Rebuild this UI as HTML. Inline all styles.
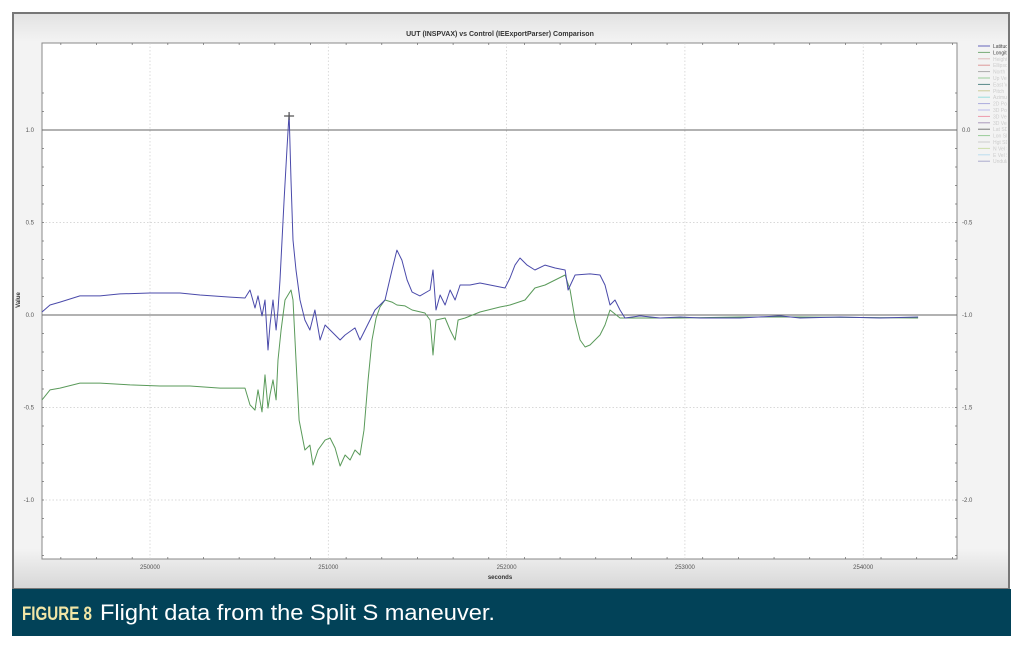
<!DOCTYPE html>
<html><head><meta charset="utf-8"><style>
body{margin:0;background:#fff;width:1024px;height:656px;overflow:hidden;font-family:"Liberation Sans",sans-serif}
</style></head><body>
<svg width="1024" height="656" viewBox="0 0 1024 656" xmlns="http://www.w3.org/2000/svg">
<defs>
<linearGradient id="bg" x1="0" y1="0" x2="0" y2="1">
<stop offset="0" stop-color="#e2e2e2"/><stop offset="0.05" stop-color="#f3f3f3"/><stop offset="0.93" stop-color="#f3f3f3"/><stop offset="1" stop-color="#d6d6d6"/>
</linearGradient>
<clipPath id="legclip"><rect x="960" y="30" width="47" height="200"/></clipPath>
</defs>
<rect x="13" y="13" width="996" height="576" fill="url(#bg)" stroke="#777" stroke-width="2"/>
<rect x="42" y="43" width="915" height="516" fill="#fff" stroke="#888" stroke-width="1"/>
<text x="500" y="36" font-size="7" font-weight="bold" text-anchor="middle" fill="#333">UUT (INSPVAX) vs Control (IEExportParser) Comparison</text>
<text x="500" y="579" font-size="6" font-weight="bold" text-anchor="middle" fill="#333">seconds</text>
<text x="20" y="300" font-size="6" font-weight="bold" text-anchor="middle" fill="#333" transform="rotate(-90 20 300)">Value</text>
<g id="grid"></g><g id="axes"></g><g id="series"></g><g id="legend" clip-path="url(#legclip)"></g>
<rect x="12" y="589" width="999" height="47" fill="#024258"/>
<text x="22" y="620" font-size="19" font-weight="bold" fill="#f2e6a6" textLength="70" lengthAdjust="spacingAndGlyphs">FIGURE 8</text>
<text x="100" y="620" font-size="22" fill="#fff" textLength="395" lengthAdjust="spacingAndGlyphs">Flight data from the Split S maneuver.</text>
</svg>
<script>
const xTicks=[250000,251000,252000,253000,254000];
const yTicksLeft=[1.0,0.5,0.0,-0.5,-1.0];
const yTicksRight=["0.0","-0.5","-1.0","-1.5","-2.0"];
const latT=[249394,249439,249495,249607,249720,249832,250000,250168,250280,250449,250533,250561,250589,250606,250628,250645,250662,250673,250690,250707,250718,250729,250752,250768,250780,250791,250802,250819,250841,250869,250897,250925,250954,250982,251010,251066,251094,251150,251178,251206,251234,251262,251318,251357,251385,251413,251442,251470,251514,251571,251587,251604,251627,251655,251683,251711,251739,251795,251851,251907,251991,252019,252047,252075,252115,252159,252216,252272,252328,252345,252384,252468,252524,252552,252580,252608,252636,252664,252748,252861,252973,253085,253309,253534,253646,253870,254094,254308];
const latV=[0.016,0.054,0.07,0.103,0.103,0.114,0.119,0.119,0.108,0.097,0.092,0.135,0.038,0.103,-0.005,0.081,-0.189,-0.054,0.081,-0.081,0.027,0.189,0.622,0.892,1.092,0.73,0.405,0.243,0.081,-0.027,-0.081,0.027,-0.135,-0.054,-0.081,-0.135,-0.108,-0.07,-0.135,-0.081,-0.027,0.027,0.081,0.243,0.351,0.297,0.189,0.124,0.103,0.135,0.243,0.027,0.108,0.054,0.135,0.081,0.162,0.162,0.173,0.162,0.146,0.2,0.27,0.308,0.27,0.243,0.27,0.254,0.243,0.135,0.216,0.222,0.216,0.162,0.054,0.081,0.027,-0.016,-0.005,-0.016,-0.011,-0.016,-0.016,-0.005,-0.016,-0.011,-0.016,-0.011];
const lonT=[249394,249439,249495,249607,249720,249888,250056,250224,250393,250477,250533,250561,250589,250606,250628,250645,250662,250673,250690,250707,250718,250735,250757,250774,250791,250802,250819,250836,250869,250897,250914,250942,250982,251010,251038,251066,251094,251122,251150,251178,251200,251223,251245,251268,251290,251318,251357,251385,251430,251470,251542,251571,251587,251604,251655,251683,251711,251728,251767,251851,251963,252019,252103,252159,252216,252272,252328,252356,252384,252412,252440,252468,252524,252552,252580,252636,252748,252973,253309,253646,254308];
const lonV=[-0.459,-0.405,-0.395,-0.368,-0.368,-0.378,-0.384,-0.384,-0.395,-0.395,-0.395,-0.486,-0.514,-0.405,-0.524,-0.324,-0.503,-0.432,-0.351,-0.459,-0.243,-0.081,0.081,0.108,0.135,0.081,-0.243,-0.568,-0.73,-0.703,-0.811,-0.73,-0.676,-0.665,-0.719,-0.816,-0.757,-0.784,-0.73,-0.757,-0.622,-0.351,-0.135,-0.016,0.043,0.081,0.07,0.054,0.049,0.027,0.011,-0.027,-0.216,-0.027,-0.016,-0.081,-0.135,-0.027,-0.016,0.016,0.043,0.054,0.081,0.146,0.162,0.189,0.216,0.135,-0.027,-0.135,-0.173,-0.162,-0.108,-0.054,0.027,-0.016,-0.016,-0.016,-0.011,-0.011,-0.016];
const legendNames=["Latitude","Longitude","Height","Ellipsoid","North Vel","Up Vel","East Vel","Pitch","Azimuth","2D Pos","3D Pos","3D Vel","3D Vel","Lat SD","Lon SD","Hgt SD","N Vel SD","E Vel SD","Undulation"];
const legendColors=["#6666bb","#77aa77","#ddbbbb","#dd9999","#aaaaaa","#99cc99","#558888","#cccc99","#99dddd","#aaaadd","#bbbbee","#ee99aa","#aa99bb","#777777","#99cc99","#cccccc","#ccddaa","#bbddee","#aaaacc"];

const NS="http://www.w3.org/2000/svg";
const X0=42,X1=957,Y0=43,Y1=559;
function xs(t){return 150+(t-250000)*0.1783;}
function ys(v){return 315-v*185;}
function mk(tag,attrs,parent){const e=document.createElementNS(NS,tag);for(const k in attrs)e.setAttribute(k,attrs[k]);parent.appendChild(e);return e;}
const grid=document.getElementById('grid'),axes=document.getElementById('axes'),series=document.getElementById('series'),legend=document.getElementById('legend');
xTicks.forEach(t=>{
  const x=xs(t);
  const g=mk('line',{x1:x,x2:x,y1:Y0,y2:Y1,stroke:'#ccc','stroke-width':0.7,'stroke-dasharray':'1.5,2'},grid);
  
  
  const l=mk('text',{x:x,y:569,'font-size':6,'text-anchor':'middle',fill:'#555'},axes);
  l.textContent=t;
  
  
});
for(let t=249500;t<=255500;t+=200){const x=xs(t);if(x<X0||x>X1)continue;mk('line',{x1:x,x2:x,y1:Y1,y2:Y1-2,stroke:'#666','stroke-width':0.7},axes);mk('line',{x1:x,x2:x,y1:Y0,y2:Y0+2,stroke:'#666','stroke-width':0.7},axes);}
yTicksLeft.forEach((v,i)=>{
  const y=ys(v);
  const solid=(v===1||v===0);
  const g=mk('line',{x1:X0,x2:X1,y1:y,y2:y,stroke:solid?'#666':'#ccc','stroke-width':solid?1:0.7,'stroke-dasharray':solid?'none':'1.5,2'},grid);
  
  
  const l=mk('text',{x:34,y:y+2,'font-size':6,'text-anchor':'end',fill:'#555'},axes);
  l.textContent=v.toFixed(1);
  
  
  const r=mk('text',{x:962,y:y+2,'font-size':6,fill:'#555'},axes);
  r.textContent=yTicksRight[i];
  
  
});
for(let v=1.2;v>=-1.4;v-=0.1){const y=ys(v);if(y<Y0||y>Y1)continue;mk('line',{x1:X0,x2:X0+2,y1:y,y2:y,stroke:'#666','stroke-width':0.7},axes);mk('line',{x1:X1,x2:X1-2,y1:y,y2:y,stroke:'#666','stroke-width':0.7},axes);}
function drawLine(T,V,color,name){
  const d=T.map((t,i)=>(i?'L':'M')+xs(t).toFixed(1)+','+ys(V[i]).toFixed(1)).join('');
  const p=mk('path',{d:d,fill:'none',stroke:color,'stroke-width':1,'stroke-linejoin':'round'},series);
  
  
}
drawLine(lonT,lonV,'#5a9a5a','longitude-line');
drawLine(latT,latV,'#4a4aaa','latitude-line');
let pk=0;latV.forEach((v,i)=>{if(v>latV[pk])pk=i;});
const px=xs(latT[pk]),py=ys(latV[pk])+3;
const cm=mk('path',{d:`M${px-5},${py}H${px+5}M${px},${py-4}V${py+4}`,stroke:'#555','stroke-width':1.2},series);


legendNames.forEach((n,i)=>{
  const y=46+i*6.4;
  const ln=mk('line',{x1:978,x2:990,y1:y,y2:y,stroke:legendColors[i],'stroke-width':1},legend);
  
  
  const t=mk('text',{x:993,y:y+2,'font-size':5,fill:i<2?'#444':'#ccc'},legend);
  t.textContent=n;
  
  
});
</script>
</body></html>
